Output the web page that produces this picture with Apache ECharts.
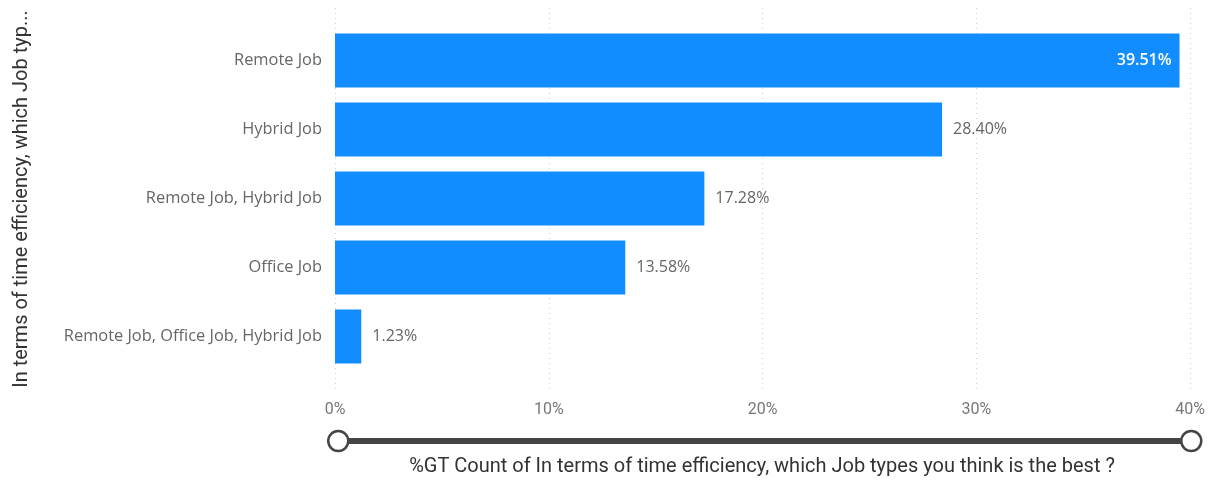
<!DOCTYPE html>
<html>
<head>
<meta charset="utf-8">
<script src="https://cdn.jsdelivr.net/npm/echarts@6/dist/echarts.min.js"></script>
<style>
  html, body { margin: 0; padding: 0; background: #fff; }
  #chart { width: 1215px; height: 483px; }
</style>
</head>
<body>
<div id="chart"></div>
<script>
// Survey answers and their share of the grand total (%)
const categories = [
  'Remote Job',
  'Hybrid Job',
  'Remote Job, Hybrid Job',
  'Office Job',
  'Remote Job, Office Job, Hybrid Job'
];
const shares = [39.51, 28.40, 17.28, 13.58, 1.23];
const tickValues = [0, 10, 20, 30, 40];

const xTitle = '%GT Count of In terms of time efficiency, which Job types you think is the best ?';
const yTitle = 'In terms of time efficiency, which Job typ...';

const BAR = '#118DFF';
const FONT = '"Open Sans", "Noto Sans", sans-serif';
const TITLE_FONT = 'Roboto, "Noto Sans", sans-serif';

const chart = echarts.init(document.getElementById('chart'), null, { renderer: 'canvas' });

const axisMax = tickValues[tickValues.length - 1];

chart.setOption({
  animation: false,
  grid: [
    // bars
    { left: 335, right: 25, top: 26, height: 345 },
    // gridlines and tick labels (taller than the bar area)
    { left: 335, right: 25, top: 8, bottom: 92 }
  ],
  xAxis: [
    {
      gridIndex: 0, type: 'value', min: 0, max: axisMax, interval: 10,
      axisLine: { show: false }, axisTick: { show: false },
      axisLabel: { show: false }, splitLine: { show: false }
    },
    {
      gridIndex: 1, type: 'value', min: 0, max: axisMax, interval: 10,
      axisLine: { show: false }, axisTick: { show: false },
      axisLabel: {
        margin: 11, color: '#777', fontSize: 16, fontFamily: TITLE_FONT,
        formatter: v => v + '%'
      },
      splitLine: { show: true, lineStyle: { color: '#cfcfcf', type: [1, 4], width: 1 } }
    }
  ],
  yAxis: [
    {
      gridIndex: 0, type: 'category', data: categories, inverse: true,
      axisLine: { show: false }, axisTick: { show: false },
      axisLabel: { margin: 13, color: '#666', fontSize: 16.4, fontFamily: FONT }
    },
    {
      gridIndex: 1, type: 'category', data: [''], show: false
    }
  ],
  dataZoom: [{
    type: 'slider', xAxisIndex: [0, 1], filterMode: 'none',
    left: 335, right: 25, top: 438, height: 6,
    backgroundColor: '#454545', fillerColor: '#454545',
    borderColor: 'transparent', showDataShadow: false, showDetail: false,
    brushSelect: false, moveHandleSize: 0,
    handleIcon: 'circle', handleSize: 20,
    handleStyle: { color: '#fff', borderColor: '#454545', borderWidth: 2.5 },
    emphasis: { handleStyle: { color: '#fff', borderColor: '#454545' } },
    dataBackground: { lineStyle: { opacity: 0 }, areaStyle: { opacity: 0 } }
  }],
  series: [{
    type: 'bar', xAxisIndex: 0, yAxisIndex: 0,
    data: shares.map((v, i) => ({
      value: v,
      label: i === 0
        ? { position: 'insideRight', color: '#fff', fontWeight: 600, distance: 8 }
        : { position: 'right', color: '#666', distance: 11 }
    })),
    barCategoryGap: '22%',
    itemStyle: { color: BAR },
    label: {
      show: true, fontSize: 16, fontFamily: FONT,
      formatter: p => p.value.toFixed(2) + '%'
    }
  }],
  graphic: [
    {
      type: 'text', x: 762, y: 467,
      style: {
        text: xTitle, fill: '#333', fontSize: 20, fontFamily: TITLE_FONT,
        align: 'center', verticalAlign: 'middle'
      }
    },
    {
      type: 'text', rotation: Math.PI / 2,
      x: 12, y: 199,
      style: {
        text: yTitle, fill: '#333', fontSize: 20, fontFamily: TITLE_FONT,
        align: 'center', verticalAlign: 'top'
      }
    }
  ]
});
</script>
</body>
</html>
